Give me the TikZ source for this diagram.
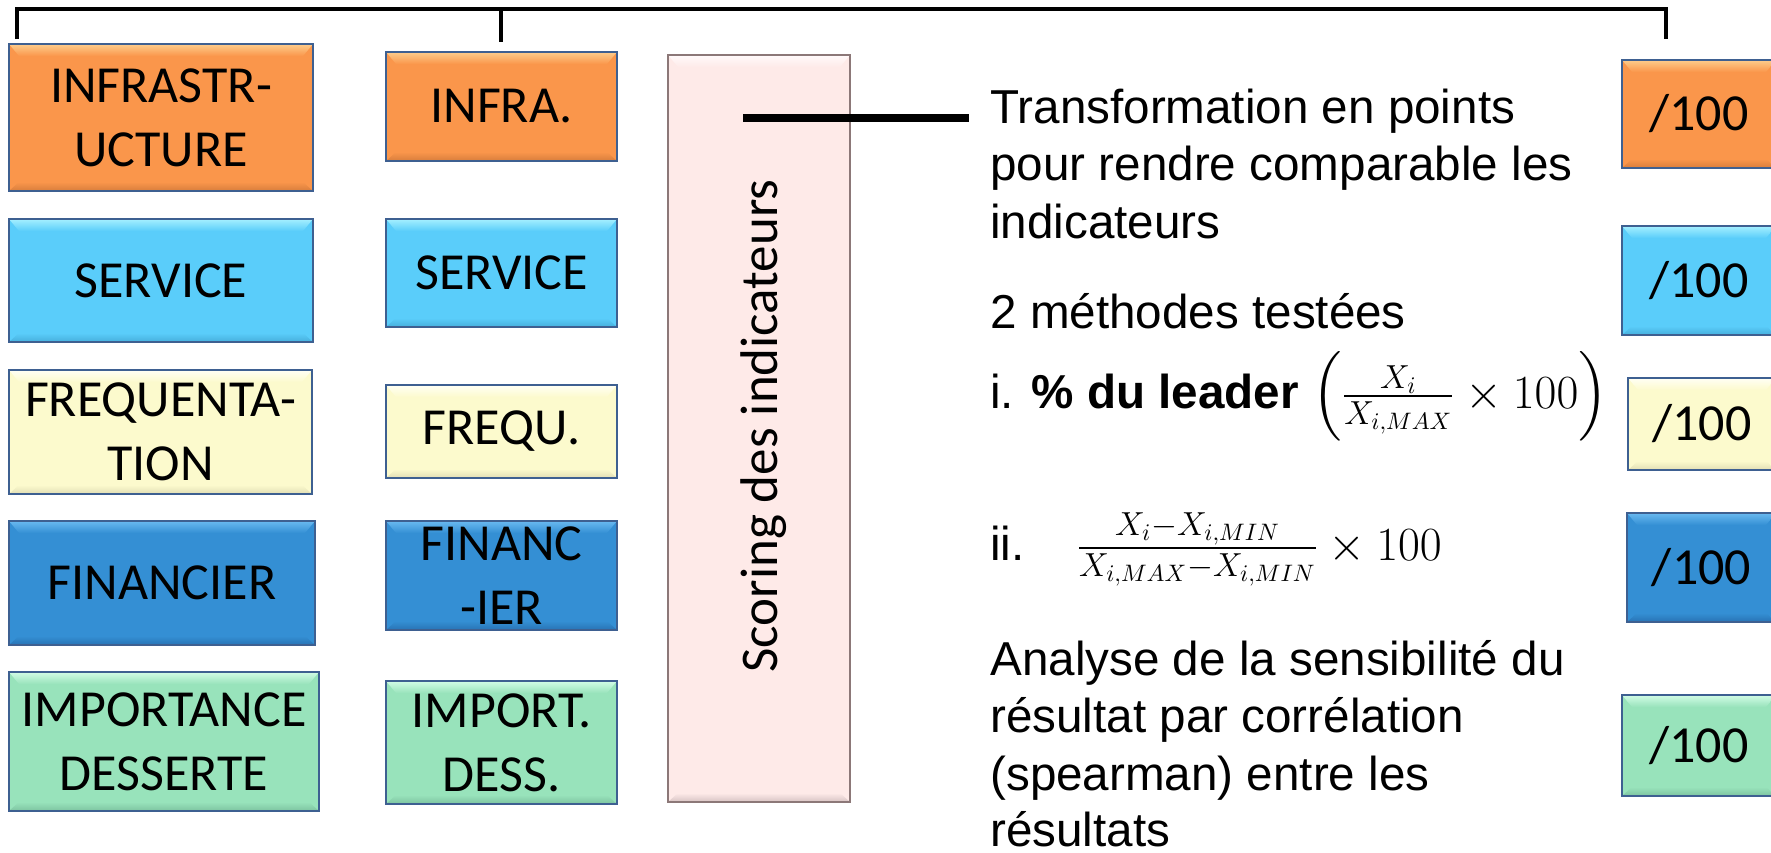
\RequirePackage{fix-cm}
\documentclass[tikz,border=0pt]{standalone}
\usepackage{amsmath}
\usepackage{fontspec}
\newfontfamily\calib{Carlito}
\newfontfamily\arialf{Liberation Sans}
\usetikzlibrary{calc}
\definecolor{orangeM}{RGB}{250,150,75}
\definecolor{orangeL}{RGB}{253,205,140}
\definecolor{orangeD}{RGB}{215,125,60}
\definecolor{blueM}{RGB}{90,205,250}
\definecolor{blueL}{RGB}{165,240,255}
\definecolor{blueD}{RGB}{70,175,220}
\definecolor{yelM}{RGB}{252,250,205}
\definecolor{yelL}{RGB}{255,255,245}
\definecolor{yelD}{RGB}{225,222,180}
\definecolor{dblM}{RGB}{52,143,212}
\definecolor{dblL}{RGB}{105,185,240}
\definecolor{dblD}{RGB}{40,115,180}
\definecolor{grnM}{RGB}{152,227,187}
\definecolor{grnL}{RGB}{210,252,230}
\definecolor{grnD}{RGB}{125,195,160}
\definecolor{pinkM}{RGB}{254,234,232}
\definecolor{pinkL}{RGB}{255,250,250}
\definecolor{pinkD}{RGB}{215,195,195}
\definecolor{bordC}{RGB}{62,96,145}
\definecolor{pinkB}{RGB}{140,120,120}
\tikzset{
  bevel/.style n args={3}{fill=#1, path picture={
    \path (path picture bounding box.north west) coordinate (pnw)
          (path picture bounding box.south east) coordinate (pse);
    \shade[top color=#2, bottom color=#1] (pnw) -- (pnw -| pse) -- ($(pnw -| pse)+(-10,12)$) -- ($(pnw)+(10,12)$) -- cycle;
    \shade[top color=#1, bottom color=#3] ($(pse -| pnw)+(10,-9)$) -- ($(pse)+(-10,-9)$) -- (pse) -- (pse -| pnw) -- cycle;
  }},
  box/.style={draw=bordC, line width=1.4pt, inner sep=0pt, align=center,
    font=\calib\fontsize{26}{32}\selectfont},
  orangebox/.style={box, bevel={orangeM}{orangeL}{orangeD}},
  bluebox/.style={box, bevel={blueM}{blueL}{blueD}},
  yelbox/.style={box, bevel={yelM}{yelL}{yelD}},
  dblbox/.style={box, bevel={dblM}{dblL}{dblD}},
  grnbox/.style={box, bevel={grnM}{grnL}{grnD}},
  scorebox/.style={draw=pinkB, line width=0.9pt, inner sep=0pt, bevel={pinkM}{pinkL}{pinkD}},
  txt/.style={anchor=base west, inner sep=0pt, font=\arialf\fontsize{23.8}{28}\selectfont},
  bracket/.style={line width=1.7pt},
  thickline/.style={line width=4pt},
}
\begin{document}
\begin{tikzpicture}[x=0.5pt,y=-0.5pt]
\clip (0,0) rectangle (1771,852);
\fill[white] (0,0) rectangle (1771,852);

% bracket
\coordinate (bl) at (17,39);
\coordinate (bm) at (501,42);
\coordinate (br) at (1666,39);
\coordinate (blt) at (17,9);
\coordinate (bmt) at (501,9);
\coordinate (brt) at (1666,9);
\draw[bracket] (bl) -- (blt) -- (brt) -- (br);
\draw[bracket] (bmt) -- (bm);

% column 1
\node[orangebox, minimum width=152pt, minimum height=73.5pt] (b11) at (161,117.5) {INFRASTR-\\UCTURE};
\node[bluebox, minimum width=152pt, minimum height=61.5pt] (b12) at (161,280.5) {SERVICE};
\node[yelbox, minimum width=151.5pt, minimum height=62pt] (b13) at (160.5,432) {FREQUENTA-\\TION};
\node[dblbox, minimum width=153pt, minimum height=62pt] (b14) at (162,583) {FINANCIER};
\node[grnbox, minimum width=155pt, minimum height=69.5pt] (b15) at (164,741.5) {IMPORTANCE\\DESSERTE};

% column 2
\node[orangebox, minimum width=115.5pt, minimum height=54.5pt] (b21) at (501.5,106.5) {INFRA.};
\node[bluebox, minimum width=115.5pt, minimum height=54pt] (b22) at (501.5,273) {SERVICE};
\node[yelbox, minimum width=115.5pt, minimum height=46.5pt] (b23) at (501.5,431.5) {FREQU.};
\node[dblbox, minimum width=115.5pt, minimum height=54.5pt] (b24) at (501.5,575.5) {FINANC\\-IER};
\node[grnbox, minimum width=115.5pt, minimum height=61.5pt] (b25) at (501.5,742.5) {IMPORT.\\DESS.};

% scoring
\node[scorebox, minimum width=91pt, minimum height=373.5pt] (sc) at (759,428.5) {};
\node[rotate=90, anchor=base, inner sep=0pt, font=\calib\fontsize{26.5}{30}\selectfont] (sctext) at (777,426) {Scoring des indicateurs};

% thick line
\coordinate (ls) at (743,118);
\coordinate (le) at (969,118);
\draw[thickline] (ls) -- (le);

% column 3
\node[orangebox, minimum width=77pt, minimum height=54pt] (c1) at (1699,114) {/100};
\node[bluebox, minimum width=77pt, minimum height=54.5pt] (c2) at (1699,280.5) {/100};
\node[yelbox, minimum width=74pt, minimum height=46pt] (c3) at (1702,424) {/100};
\node[dblbox, minimum width=74.5pt, minimum height=54.5pt] (c4) at (1701.5,567.5) {/100};
\node[grnbox, minimum width=77pt, minimum height=50.5pt] (c5) at (1699,745.5) {/100};

% text
\node[txt] (t1) at (990,123) {Transformation en points};
\node[txt] (t2) at (990,180) {pour rendre comparable les};
\node[txt] (t3) at (990,238) {indicateurs};
\node[txt] (t4) at (990,328) {2 méthodes testées};
\node[txt] (t5) at (990,408) {i. \textbf{\% du leader} $\left(\frac{X_i}{X_{i,MAX}}\times 100\right)$};
\node[txt] (t6) at (990,560) {ii.\hspace{26pt}$\frac{X_i-X_{i,MIN}}{X_{i,MAX}-X_{i,MIN}}\times 100$};
\node[txt] (t7) at (990,675) {Analyse de la sensibilité du};
\node[txt] (t8) at (990,732) {résultat par corrélation};
\node[txt] (t9) at (990,790) {(spearman) entre les};
\node[txt] (t10) at (990,846) {résultats};
\end{tikzpicture}
\end{document}
